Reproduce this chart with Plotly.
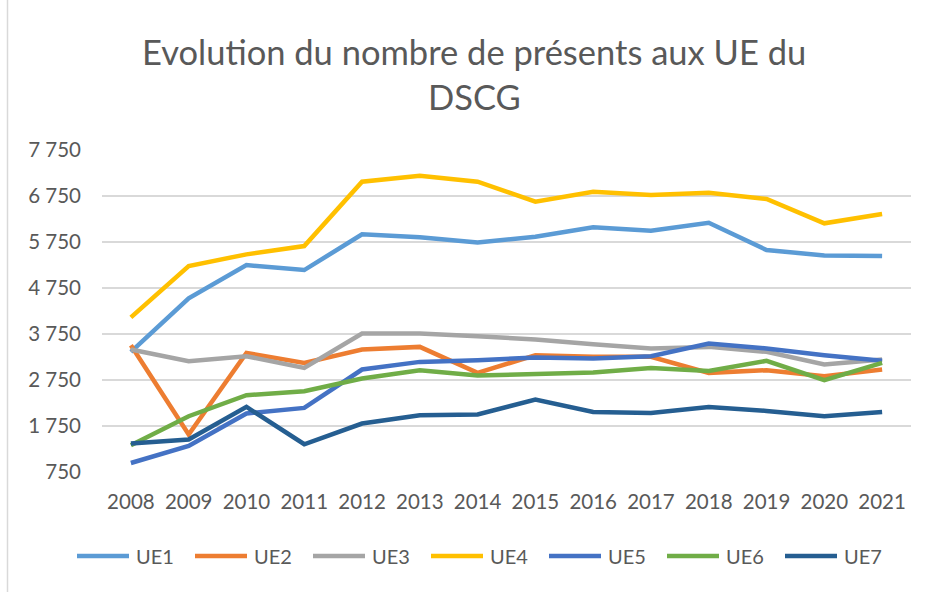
import plotly.graph_objects as go

years = ["2008", "2009", "2010", "2011", "2012", "2013", "2014",
         "2015", "2016", "2017", "2018", "2019", "2020", "2021"]

ue1 = [3362, 4524, 5248, 5140, 5916, 5851, 5742, 5864, 6069, 5995, 6169, 5575, 5459, 5444]
ue2 = [3507, 1564, 3340, 3122, 3414, 3470, 2905, 3290, 3253, 3253, 2905, 2963, 2833, 2978]
ue3 = [3414, 3159, 3268, 3013, 3762, 3762, 3703, 3631, 3529, 3435, 3470, 3362, 3087, 3196]
ue4 = [4110, 5227, 5481, 5662, 7061, 7192, 7061, 6626, 6844, 6772, 6822, 6685, 6156, 6358]
ue5 = [946, 1316, 2021, 2143, 2978, 3144, 3181, 3240, 3218, 3268, 3544, 3435, 3290, 3166]
ue6 = [1331, 1962, 2419, 2506, 2783, 2963, 2848, 2876, 2913, 3013, 2948, 3166, 2746, 3122]
ue7 = [1368, 1455, 2165, 1353, 1803, 1984, 2000, 2326, 2056, 2034, 2165, 2078, 1962, 2056]

series_names = ["UE1", "UE2", "UE3", "UE4", "UE5", "UE6", "UE7"]
series_values = [ue1, ue2, ue3, ue4, ue5, ue6, ue7]
colors = ["#5B9BD5", "#ED7D31", "#A5A5A5", "#FFC000", "#4472C4", "#70AD47", "#255E91"]

y_ticks = [750, 1750, 2750, 3750, 4750, 5750, 6750, 7750]
y_tick_labels = ["750", "1 750", "2 750", "3 750", "4 750", "5 750", "6 750", "7 750"]

title_lines = ["Evolution du nombre de présents aux UE du", "DSCG"]

FONT = "Lato"
GREY = "#595959"

W, H = 928, 592
ml, mr, mt, mb = 102, 17, 150, 120
pw = W - ml - mr
ph = H - mt - mb


def px_x(x):
    return (x - ml) / pw


def px_y(y):
    return (H - mb - y) / ph


fig = go.Figure()
for name, vals, col in zip(series_names, series_values, colors):
    fig.add_trace(go.Scatter(x=years, y=vals, name=name, mode="lines",
                             line=dict(color=col, width=4.5),
                             showlegend=False))

fig.update_layout(
    width=W, height=H,
    margin=dict(l=ml, r=mr, t=mt, b=mb, autoexpand=False),
    paper_bgcolor="white", plot_bgcolor="white",
    font=dict(family=FONT, color=GREY, size=20),
    xaxis=dict(type="category", range=[-0.5, 13.5], showgrid=False,
               showline=False, zeroline=False, ticks="", automargin=False,
               ticklabelstandoff=15,
               tickfont=dict(size=20.5, color=GREY)),
    yaxis=dict(range=[750, 7750], tickvals=y_ticks, ticktext=y_tick_labels,
               showgrid=True, gridcolor="#D9D9D9", gridwidth=1.5,
               zeroline=False, showline=False, ticks="", automargin=False,
               ticklabelstandoff=20,
               tickfont=dict(size=20.5, color=GREY)),
    showlegend=False,
)

# Title (two centred lines)
title_y = [51, 96]
for txt, yy in zip(title_lines, title_y):
    fig.add_annotation(text=txt, xref="paper", yref="paper",
                       x=px_x(474), y=px_y(yy), xanchor="center", yanchor="middle",
                       showarrow=False, font=dict(family=FONT, size=34.5, color=GREY))

# Legend drawn below the plot
leg_x0, leg_step, leg_len, leg_y = 75, 118, 56, 556
for i, (name, col) in enumerate(zip(series_names, colors)):
    x0 = leg_x0 + i * leg_step
    fig.add_shape(type="line", xref="paper", yref="paper",
                  x0=px_x(x0 + 2), x1=px_x(x0 + leg_len - 2),
                  y0=px_y(leg_y), y1=px_y(leg_y),
                  line=dict(color=col, width=4.5))
    fig.add_annotation(text=name, xref="paper", yref="paper",
                       x=px_x(x0 + leg_len + 3), y=px_y(leg_y),
                       xanchor="left", yanchor="middle", showarrow=False,
                       font=dict(family=FONT, size=20, color=GREY))

# Left frame line of the chart area
fig.add_shape(type="line", xref="paper", yref="paper",
              x0=px_x(7.5), x1=px_x(7.5), y0=px_y(H), y1=px_y(0),
              line=dict(color="#D9D9D9", width=1.5))

fig.write_html("out.html",
               config={"displayModeBar": False},
               post_script="document.body.style.margin='0';document.body.style.overflow='hidden';")
